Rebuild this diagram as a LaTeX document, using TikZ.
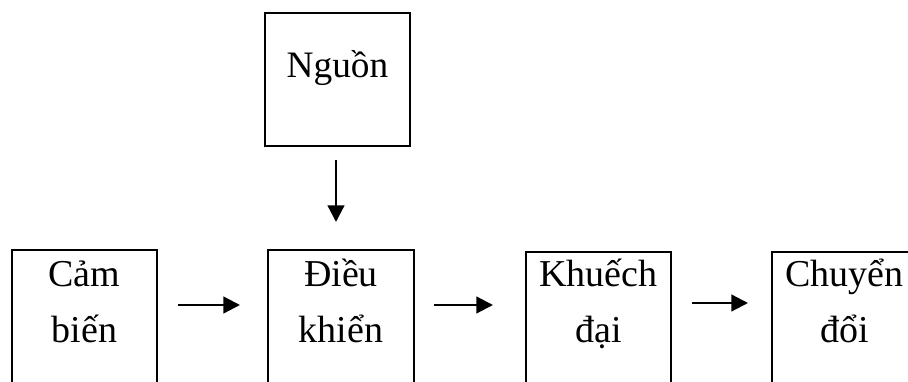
\documentclass[tikz,border=0pt]{standalone}
\usepackage{fontspec}
\setmainfont{Liberation Serif}
\usetikzlibrary{arrows.meta,calc}
\tikzset{
  box/.style={draw, line width=1.6pt, rectangle, anchor=north west,
    minimum width=108.75pt, inner sep=0pt, outer sep=0pt},
  lowbox/.style={box, minimum height=127.5pt},
  lbl/.style={font=\fontsize{28.5pt}{42pt}\selectfont, align=center,
    anchor=base, inner sep=0pt},
  arr/.style={line width=1.7pt, -{Triangle[length=12.5pt,width=12.5pt]}}
}
\begin{document}
\begin{tikzpicture}[x=0.75pt,y=-0.75pt]
\useasboundingbox (0,0) rectangle (908,382);
\clip (0,0) rectangle (908,382);

% power supply on top
\node[box, minimum height=99.75pt] (nguon) at (265,13) {};
\node[lbl, font=\fontsize{28pt}{42pt}\selectfont] (nguonT) at ($(nguon.north)+(0,64)$) {Nguồn};

% signal chain along the bottom (boxes run past the lower edge)
\node[lowbox] (cam) at (12,250) {};
\node[lowbox, minimum width=109.5pt] (dk) at (268,250) {};
\node[lowbox] (kd) at (526,252) {};
\node[lowbox] (cd) at (772,252) {};

% two-line labels: the base anchor sits on the second line
\node[lbl] (camT) at ($(cam.north)+(0,92)$) {Cảm\\biến};
\node[lbl] (dkT) at ($(dk.north)+(0,92)$) {Điều\\khiển};
\node[lbl] (kdT) at ($(kd.north)+(0,90)$) {Khuếch\\đại};
\node[lbl] (cdT) at ($(cd.north)+(0,90)$) {Chuyển\\đổi};

% connectors
\draw[arr] ($(nguon.south)+(-1.5,14)$) -- ($(nguon.south |- dk.north)+(-1.5,-28)$);
\draw[arr] ($(cam.north east)+(21,55)$) -- ($(dk.north west)+(-28,55)$);
\draw[arr] ($(dk.north east)+(20,55)$) -- ($(kd.north west)+(-33,53)$);
\draw[arr] ($(kd.north east)+(21,51)$) -- ($(cd.north west)+(-24,51)$);
\end{tikzpicture}
\end{document}
